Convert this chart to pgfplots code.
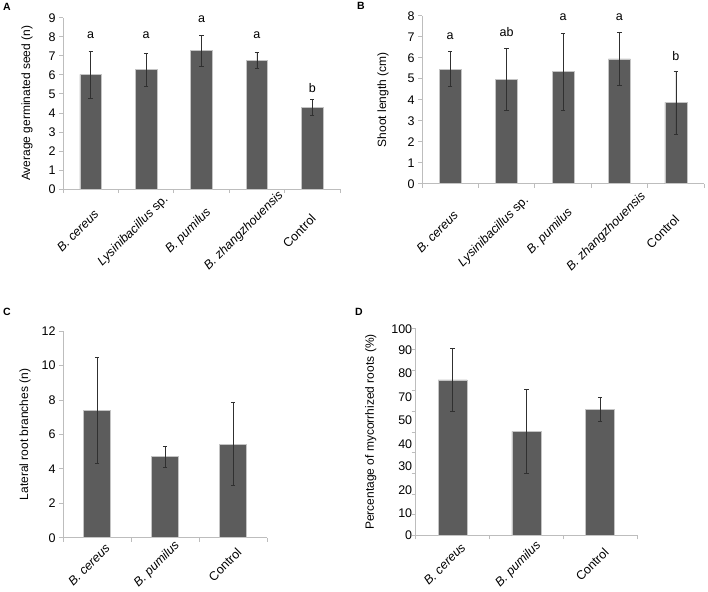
\documentclass[border=0pt]{standalone}
\usepackage{pgfplots}
\pgfplotsset{compat=1.18}
\usepackage{fontspec}
\setmainfont{Liberation Sans}
\definecolor{barfill}{HTML}{5C5C5C}
\definecolor{baredge}{HTML}{C4C4C4}
\definecolor{axgray}{HTML}{BDBDBD}
\definecolor{errc}{HTML}{303030}
\pgfplotsset{
  panel/.style={
    scale only axis,
    anchor=south west,
    axis x line*=bottom,
    axis y line*=left,
    axis line style={axgray, line width=0.7pt},
    every tick/.style={axgray, line width=0.7pt},
    major tick length=4pt,
    tick align=outside,
    xtick pos=bottom, ytick pos=left,
    ymin=0,
    xmin=-0.5,
    xticklabels={},
    extra x tick style={major tick length=0pt},
    font=\fontsize{12.5}{14}\selectfont,
    tick label style={font=\fontsize{12.5}{14}\selectfont},
    /pgf/number format/assume math mode=true,
    ylabel style={font=\fontsize{12}{14}\selectfont},
    ybar,
    bar shift=0pt,
    clip=false,
  },
  bars/.style={fill=barfill, draw=baredge, line width=0.6pt,
    error bars/.cd, y dir=both, y explicit,
    error bar style={errc, line width=0.45pt},
    error mark options={rotate=90, mark size=2.2pt, errc, line width=0.45pt}},
}
\begin{document}
\begin{tikzpicture}
\useasboundingbox (0,0) rectangle (708pt,-591pt);
% Panel letters
\node[font=\bfseries\fontsize{10.5}{12}\selectfont] at (7pt,-7pt) {A};
\node[font=\bfseries\fontsize{10.5}{12}\selectfont] at (361pt,-6pt) {B};
\node[font=\bfseries\fontsize{10.5}{12}\selectfont] at (7pt,-312pt) {C};
\node[font=\bfseries\fontsize{10.5}{12}\selectfont] at (359pt,-312pt) {D};

% Panel A
\begin{axis}[panel, at={(63pt,-189pt)}, width=277pt, height=171.3pt,
  xmax=4.5, ymax=9, ytick={0,1,...,9}, bar width=21.5pt,
  xtick={-0.5,0.5,...,4.5},
  ylabel={Average germinated seed (n)}, ylabel shift=9pt,
  extra x ticks={0,1,2,3,4},
  extra x tick labels={\textit{B. cereus},\textit{Lysinibacillus} sp.,\textit{B. pumilus},\textit{B. zhangzhouensis},Control},
  xticklabel style={xshift=-13pt, yshift=-42pt, rotate=45, anchor=center}]
\addplot[bars] table[x=x, y=y, y error=e] {
x y e
0 6.02 1.23
1 6.27 0.85
2 7.27 0.82
3 6.76 0.44
4 4.29 0.43
};
\node[font=\fontsize{12.5}{14}\selectfont] at (axis cs:0,8.09) {a};
\node[font=\fontsize{12.5}{14}\selectfont] at (axis cs:1,8.09) {a};
\node[font=\fontsize{12.5}{14}\selectfont] at (axis cs:2,8.93) {a};
\node[font=\fontsize{12.5}{14}\selectfont] at (axis cs:3,8.09) {a};
\node[font=\fontsize{12.5}{14}\selectfont] at (axis cs:4,5.32) {b};
\end{axis}

% Panel B
\begin{axis}[panel, at={(422pt,-183.7pt)}, width=282pt, height=168pt,
  xmax=4.5, ymax=8, ytick={0,1,...,8}, bar width=22pt,
  xtick={-0.5,0.5,...,4.5},
  ylabel={Shoot length (cm)}, ylabel shift=12pt,
  extra x ticks={0,1,2,3,4},
  extra x tick labels={\textit{B. cereus},\textit{Lysinibacillus} sp.,\textit{B. pumilus},\textit{B. zhangzhouensis},Control},
  xticklabel style={xshift=-13pt, yshift=-48pt, rotate=45, anchor=center}]
\addplot[bars] table[x=x, y=y, y error=e] {
x y e
0 5.46 0.83
1 4.97 1.46
2 5.33 1.83
3 5.94 1.27
4 3.87 1.50
};
\node[font=\fontsize{12.5}{14}\selectfont] at (axis cs:0,7.03) {a};
\node[font=\fontsize{12.5}{14}\selectfont] at (axis cs:1,7.21) {ab};
\node[font=\fontsize{12.5}{14}\selectfont] at (axis cs:2,7.92) {a};
\node[font=\fontsize{12.5}{14}\selectfont] at (axis cs:3,7.92) {a};
\node[font=\fontsize{12.5}{14}\selectfont] at (axis cs:4,6.08) {b};
\end{axis}

% Panel C
\begin{axis}[panel, at={(63pt,-537.7pt)}, width=204pt, height=206.7pt,
  xmax=2.5, ymax=12, ytick={0,2,...,12}, bar width=27pt,
  xtick={-0.5,0.5,1.5,2.5},
  ylabel={Lateral root branches (n)}, ylabel shift=4pt,
  extra x ticks={0,1,2},
  extra x tick labels={\textit{B. cereus},\textit{B. pumilus},Control},
  xticklabel style={xshift=-8pt, yshift=-27pt, rotate=45, anchor=center}]
\addplot[bars] table[x=x, y=y, y error=e] {
x y e
0 7.41 3.08
1 4.70 0.60
2 5.44 2.42
};
\end{axis}

% Panel D
\begin{axis}[panel, at={(415.7pt,-535.3pt)}, width=221.3pt, height=206.6pt,
  xmax=2.5, ymax=100, ytick={0,10,...,100}, yticklabels={}, bar width=29pt,
  xtick={-0.5,0.5,1.5,2.5},
  ylabel={Percentage of mycorrhized roots (\%)}, ylabel shift=4pt,
  extra x ticks={0,1,2},
  extra x tick labels={\textit{B. cereus},\textit{B. pumilus},Control},
  extra y ticks={0,10.6,21.95,33.3,43.9,55.6,66.7,78.4,89.4,100},
  extra y tick labels={0,10,20,30,40,50,70,80,90,100},
  extra y tick style={major tick length=0pt},
  xticklabel style={xshift=-8pt, yshift=-29pt, rotate=45, anchor=center}]
\addplot[bars] table[x=x, y=y, y error=e] {
x y e
0 75.2 15.3
1 50.3 20.4
2 61.0 6.0
};
\end{axis}
\end{tikzpicture}
\end{document}
